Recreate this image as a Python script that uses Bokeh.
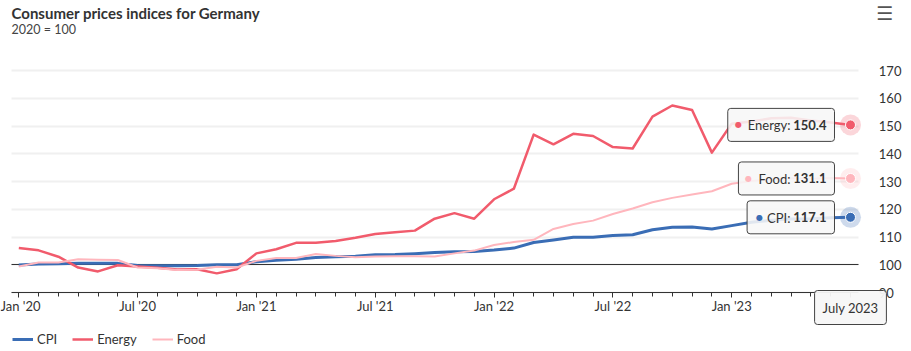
from bokeh.plotting import figure
from bokeh.models import (FixedTicker, Range1d, Label, Legend, LegendItem, Grid, ColumnDataSource)
from bokeh.embed import file_html
from bokeh.resources import INLINE

FONT = "Lato"
W, H = 911, 351

months = [f"{m} {y}" for y in (2020, 2021, 2022, 2023)
          for m in ("Jan", "Feb", "Mar", "Apr", "May", "Jun", "Jul", "Aug", "Sep", "Oct", "Nov", "Dec")][:43]

cpi = [99.9, 100.3, 100.4, 100.5, 100.5, 100.5, 99.7, 99.6, 99.6, 99.7, 100.0, 100.0,
       101.1, 101.6, 102.0, 102.6, 102.9, 103.1, 103.6, 103.7, 104.0, 104.4, 104.7, 104.8,
       105.3, 106.0, 108.0, 108.9, 109.9, 109.9, 110.5, 110.8, 112.6, 113.5, 113.6, 112.9,
       114.1, 115.3, 116.0, 116.5, 116.6, 116.9, 117.1]
energy = [106.0, 105.2, 102.9, 99.0, 97.6, 99.8, 99.4, 98.9, 98.3, 98.4, 96.9, 98.4,
          104.1, 105.6, 107.9, 107.9, 108.6, 109.7, 111.1, 111.7, 112.3, 116.6, 118.6, 116.6,
          123.6, 127.4, 146.9, 143.4, 147.2, 146.4, 142.4, 141.9, 153.4, 157.4, 155.8, 140.4,
          150.8, 151.6, 152.8, 153.0, 152.0, 151.3, 150.4]
food = [99.4, 100.8, 100.8, 102.0, 101.8, 101.7, 99.0, 98.7, 98.1, 98.2, 99.3, 99.0,
        101.4, 102.4, 102.4, 103.9, 103.2, 102.7, 103.0, 103.1, 103.1, 103.0, 104.1, 105.1,
        107.1, 108.2, 109.0, 112.9, 114.7, 115.9, 118.3, 120.3, 122.5, 124.1, 125.3, 126.5,
        129.2, 130.2, 130.8, 131.2, 131.0, 131.3, 131.1]

series_names = ["CPI", "Energy", "Food"]
series_colors = {"CPI": "#3a6db5", "Energy": "#f15b6c", "Food": "#ffb6bd"}
series_widths = {"CPI": 3, "Energy": 2.5, "Food": 2}
series_values = {"CPI": cpi, "Energy": energy, "Food": food}

x_tick_labels = {0: "Jan '20", 6: "Jul '20", 12: "Jan '21", 18: "Jul '21",
                 24: "Jan '22", 30: "Jul '22", 36: "Jan '23", 42: ""}
y_ticks = [90, 100, 110, 120, 130, 140, 150, 160, 170]
hover_label = "July 2023"
title_text = "Consumer prices indices for Germany"
subtitle_text = "2020 = 100"

x = list(range(len(months)))

# plotting area (in data units) and the extended view so that the frame covers the canvas
X_LO, X_HI = -0.37, 42.42
Y_LO, Y_HI = 90, 170

p = figure(width=W, height=H, output_backend="svg", toolbar_location=None, title=None,
           x_range=Range1d(-0.9242, 45.081), y_range=Range1d(68.74, 195.23),
           y_axis_location="right",
           min_border_left=0, min_border_right=0, min_border_top=0, min_border_bottom=0)
p.outline_line_color = None
p.background_fill_color = "white"
p.border_fill_color = "white"

# axes
xa = p.xaxis[0]
xa.fixed_location = Y_LO
xa.bounds = (X_LO, X_HI)
xa.ticker = FixedTicker(ticks=sorted(x_tick_labels.keys()), minor_ticks=x)
xa.major_label_overrides = x_tick_labels
xa.axis_line_color = "#333333"
xa.major_tick_line_color = "#333333"
xa.minor_tick_line_color = "#333333"
xa.major_tick_out = 5
xa.major_tick_in = 0
xa.minor_tick_out = 4
xa.minor_tick_in = 0
xa.major_label_text_font = FONT
xa.major_label_text_font_size = "13px"
xa.major_label_text_color = "#333333"
xa.major_label_standoff = 0

ya = p.yaxis[0]
ya.fixed_location = X_HI
ya.bounds = (Y_LO, Y_HI)
ya.ticker = FixedTicker(ticks=y_ticks)
ya.axis_line_color = None
ya.major_tick_line_color = None
ya.minor_tick_line_color = None
ya.major_label_text_font = FONT
ya.major_label_text_font_size = "13px"
ya.major_label_text_color = "#333333"
ya.major_label_standoff = 14

p.xgrid.grid_line_color = None
p.ygrid.ticker = FixedTicker(ticks=y_ticks)
p.ygrid.cross_bounds = (X_LO, X_HI)
p.ygrid.grid_line_color = "#f0f0f0"
p.ygrid.grid_line_width = 2

base_line = Grid(dimension=1, ticker=FixedTicker(ticks=[100]), cross_bounds=(X_LO, X_HI),
                 grid_line_color="#333333", grid_line_width=1)
p.add_layout(base_line)

renderers = {}
for name in series_names:
    src = ColumnDataSource(dict(x=x, y=series_values[name]))
    renderers[name] = p.line("x", "y", source=src, line_color=series_colors[name],
                             line_width=series_widths[name], line_join="round")

# tooltips at last point
last = x[-1]
dot_offsets = {"Energy": -112, "Food": -102, "CPI": -91}
for name in ["Energy", "Food", "CPI"]:
    v = series_values[name][-1]
    p.add_layout(Label(x=last, y=v, x_offset=-16, y_offset=0, text=f"{name}:",
                       text_align="right", text_baseline="middle",
                       text_font=FONT, text_font_size="13px", text_color="#333333",
                       background_fill_color="#f7f7f7", background_fill_alpha=0.88,
                       border_line_color="#444444", border_line_width=1, border_radius=3,
                       padding=dict(left=20, right=44, top=9, bottom=8)))
    p.add_layout(Label(x=last, y=v, x_offset=-24, y_offset=0, text=f"{v:.1f}",
                       text_align="right", text_baseline="middle",
                       text_font=FONT, text_font_size="13px", text_font_style="bold",
                       text_color="#333333"))
    p.add_layout(Label(x=last, y=v, x_offset=dot_offsets[name], y_offset=0, text="\u25cf",
                       text_align="center", text_baseline="middle",
                       text_font="DejaVu Sans", text_font_size="8px",
                       text_color=series_colors[name]))
    src = ColumnDataSource(dict(x=[last], y=[v]))
    p.scatter("x", "y", source=src, size=21, fill_color=series_colors[name], fill_alpha=0.25,
              line_color=None)
    p.scatter("x", "y", source=src, size=10, fill_color=series_colors[name],
              line_color="white", line_width=1)

# x hover label
p.add_layout(Label(x=last, y=Y_LO, x_offset=0, y_offset=-15, text=hover_label,
                   text_align="center", text_baseline="middle",
                   text_font=FONT, text_font_size="13px", text_color="#333333",
                   background_fill_color="#f7f7f7", background_fill_alpha=0.95,
                   border_line_color="#444444", border_line_width=1, border_radius=3,
                   padding=dict(left=8, right=8, top=9, bottom=9)))

# titles and menu icon (screen units, measured from the bottom-left)
p.add_layout(Label(x=11, y=H - 12, x_units="screen", y_units="screen", text=title_text,
                   text_align="left", text_baseline="middle",
                   text_font=FONT, text_font_size="15px", text_font_style="bold",
                   text_color="#333333"))
p.add_layout(Label(x=11, y=H - 29, x_units="screen", y_units="screen", text=subtitle_text,
                   text_align="left", text_baseline="middle",
                   text_font=FONT, text_font_size="12.5px", text_color="#444444"))
p.add_layout(Label(x=884, y=H - 12, x_units="screen", y_units="screen", text="\u2630",
                   text_align="center", text_baseline="middle",
                   text_font="DejaVu Sans", text_font_size="19px", text_color="#555555"))

legend = Legend(items=[LegendItem(label=n, renderers=[renderers[n]]) for n in series_names],
                orientation="horizontal", location=(12, 2),
                label_text_font=FONT, label_text_font_size="13px", label_text_color="#333333",
                glyph_width=21, glyph_height=20, label_standoff=4, spacing=15,
                padding=0, margin=0, border_line_alpha=0, background_fill_alpha=0)
p.add_layout(legend)

open("out.html", "w").write(file_html(p, INLINE))
